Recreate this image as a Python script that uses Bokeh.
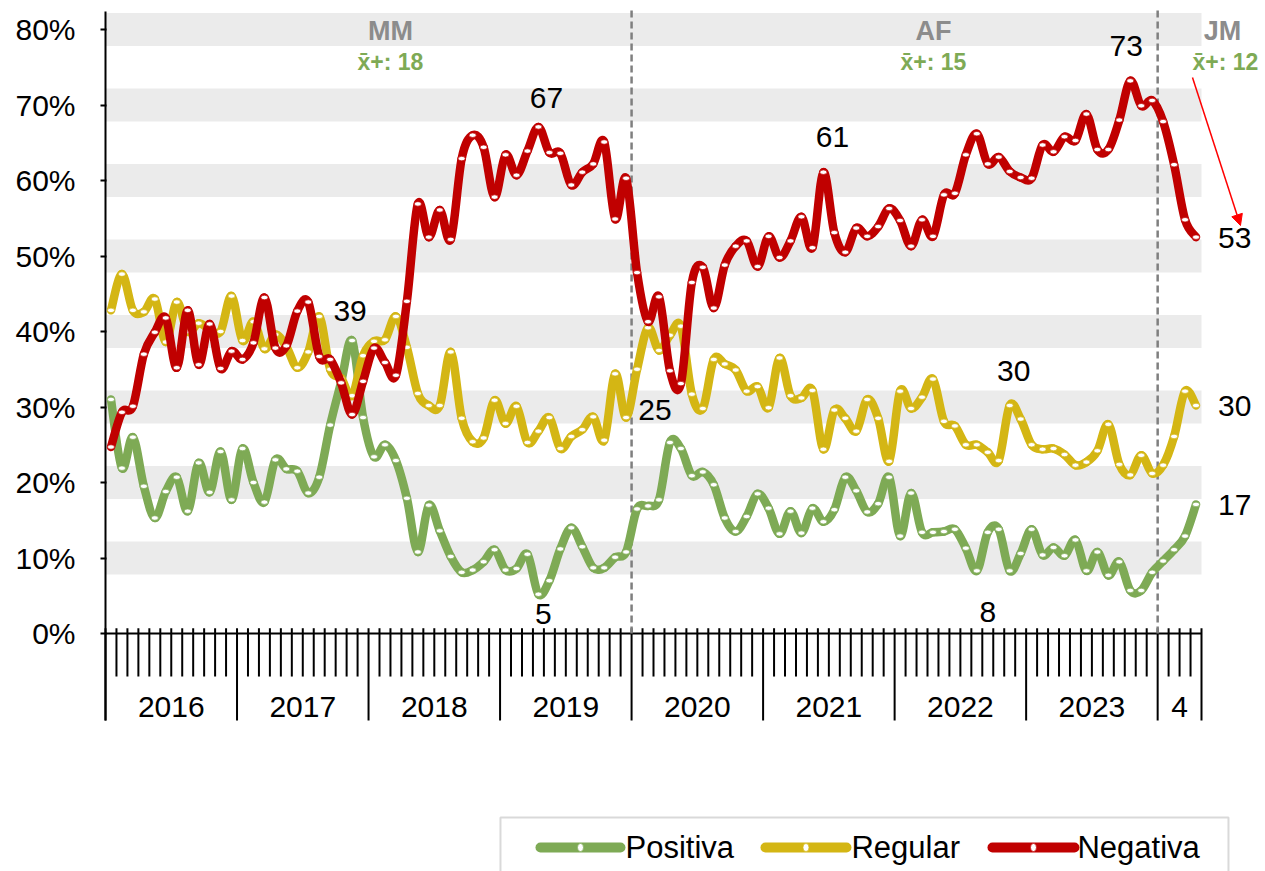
import numpy as np
from bokeh.plotting import figure
from bokeh.models import Range1d, FixedTicker, Arrow, NormalHead
from bokeh.core.properties import value
from bokeh.embed import file_html
from bokeh.resources import INLINE

# ---------------- data ----------------
years = ["2016", "2017", "2018", "2019", "2020", "2021", "2022", "2023", "4"]
months_per_year = [12, 12, 12, 12, 12, 12, 12, 12, 4]

positiva = [31.0, 21.9, 26.0, 19.5, 15.3, 18.8, 20.7, 16.2, 22.6, 18.7, 24.1, 17.7,
            24.5, 20.0, 17.4, 23.0, 21.8, 21.5, 18.6, 20.7, 27.6, 33.3, 38.8, 28.6,
            23.4, 25.0, 22.9, 17.9, 10.8, 17.0, 13.6, 10.2, 8.1, 8.4, 9.5, 11.1,
            8.4, 8.6, 10.5, 5.2, 7.0, 11.2, 14.0, 11.5, 8.7, 8.7, 10.1, 10.8,
            16.5, 16.9, 17.7, 25.3, 24.5, 20.9, 21.4, 19.7, 15.3, 13.5, 15.5, 18.5,
            16.6, 13.2, 16.2, 13.3, 16.6, 14.8, 16.4, 20.7, 18.9, 16.1, 17.2, 20.7,
            12.9, 18.6, 13.4, 13.4, 13.5, 13.8, 11.3, 8.3, 13.4, 13.8, 8.3, 10.6,
            13.8, 10.4, 11.4, 10.3, 12.4, 8.3, 10.8, 7.7, 9.5, 5.7, 5.7, 8.1,
            9.6, 11.1, 12.9, 17.1]

regular = [42.8, 47.6, 42.8, 42.6, 44.3, 38.6, 43.9, 40.0, 41.1, 40.3, 40.0, 44.7,
           38.8, 41.3, 37.7, 39.6, 38.0, 35.2, 37.3, 42.0, 35.0, 33.8, 31.5, 36.8,
           38.7, 38.9, 42.0, 37.9, 31.8, 30.2, 30.2, 37.3, 28.5, 25.4, 25.9, 30.9,
           27.8, 30.1, 25.3, 26.8, 28.6, 24.5, 26.1, 27.0, 28.7, 25.6, 34.4, 28.6,
           35.0, 40.5, 37.5, 39.5, 40.7, 31.7, 29.8, 36.3, 35.7, 34.9, 32.1, 32.7,
           29.9, 36.5, 31.5, 31.2, 32.2, 24.4, 29.6, 28.5, 26.8, 31.0, 28.5, 22.8,
           32.1, 29.8, 31.3, 33.7, 28.1, 27.5, 25.0, 25.0, 24.0, 22.9, 30.2, 28.4,
           25.0, 24.4, 24.5, 23.7, 22.3, 22.7, 24.2, 27.7, 22.4, 21.0, 23.6, 21.2,
           22.3, 26.1, 32.1, 30.2]

negativa = [24.7, 29.3, 30.1, 37.0, 39.9, 41.8, 35.2, 42.8, 35.6, 41.0, 35.1, 37.4,
            36.3, 38.5, 44.5, 37.8, 38.1, 42.7, 43.9, 36.7, 36.3, 33.2, 29.0, 33.4,
            37.8, 35.9, 34.2, 44.0, 56.9, 52.5, 56.1, 52.2, 62.9, 66.0, 64.4, 57.8,
            63.4, 60.7, 63.9, 67.1, 63.7, 63.6, 59.4, 61.1, 62.2, 65.1, 54.9, 60.3,
            47.8, 41.3, 44.6, 34.8, 33.1, 46.5, 48.5, 43.1, 48.8, 51.3, 52.0, 48.6,
            52.6, 49.8, 52.0, 55.2, 51.1, 61.1, 53.1, 50.5, 53.7, 52.6, 53.9, 56.3,
            54.7, 51.3, 54.8, 52.6, 58.1, 58.3, 63.4, 66.2, 62.2, 63.1, 61.2, 60.4,
            60.3, 64.7, 63.8, 65.8, 65.3, 68.8, 64.1, 64.1, 68.0, 73.2, 69.9, 70.6,
            67.8, 62.1, 54.8, 52.5]

series_names = ["Positiva", "Regular", "Negativa"]
series_colors = ["#7EAA55", "#D4B614", "#C00000"]
end_labels = ["17", "30", "53"]

y_ticks = [0, 10, 20, 30, 40, 50, 60, 70, 80]
y_tick_labels = ["0%", "10%", "20%", "30%", "40%", "50%", "60%", "70%", "80%"]

periods = ["MM", "AF", "JM"]
period_means = ["x̄+: 18", "x̄+: 15", "x̄+: 12"]

# data labels: (series index, point index, text, dx px, dy px)
point_labels = [(0, 22, "39", -2, -30), (2, 39, "67", 8, -29), (0, 39, "5", 5, 20),
                (0, 51, "25", -15, -32), (2, 65, "61", 9, -35), (1, 82, "30", 4, -34),
                (0, 79, "8", 11, 41), (2, 93, "73", -4, -35)]

# ---------------- geometry ----------------
PX_X = 10.96          # px per month
PX_Y = 7.55           # px per percentage point
FONT = "Liberation Sans"
N = len(positiva)

W, H = 1260, 871
FRAME_L = 100         # frame left edge (page px)
FRAME_T = 8           # frame top edge (page px)
x_start = -0.5 - 5 / PX_X
x_end = x_start + (1258 - FRAME_L) / PX_X
y_end = (633 - FRAME_T) / PX_Y
y_start = y_end - (H - FRAME_T) / PX_Y


def px2x(px):      # page px -> data x
    return (px - 110.5) / PX_X


def py2y(py):      # page px -> data y
    return (633 - py) / PX_Y


p = figure(width=W, height=H, output_backend="svg", toolbar_location=None,
           x_range=Range1d(x_start, x_end), y_range=Range1d(y_start, y_end),
           x_axis_location=None, min_border_left=FRAME_L, min_border_right=W - 1258,
           min_border_top=FRAME_T, min_border_bottom=0)
p.outline_line_color = None
p.xgrid.visible = False
p.ygrid.visible = False
p.background_fill_color = "white"
p.border_fill_color = "white"

# y axis ticks / labels (axis line drawn manually)
yax = p.yaxis[0]
yax.ticker = FixedTicker(ticks=y_ticks)
yax.major_label_overrides = {t: l for t, l in zip(y_ticks, y_tick_labels)}
yax.axis_line_color = None
yax.minor_tick_line_color = None
yax.major_tick_in = 6
yax.major_tick_out = 0
yax.major_tick_line_width = 2
yax.major_tick_line_color = "black"
yax.major_label_standoff = 25
yax.major_label_text_font = FONT
yax.major_label_text_font_size = "30px"
yax.major_label_text_color = "black"

# background bands
p.quad(left=-0.5, right=N - 0.5, bottom=[t - 2.2 for t in y_ticks[1:]],
       top=[t + 2.2 for t in y_ticks[1:]], fill_color="#EBEBEB", line_color=None)

# y axis line
p.segment(x0=[-0.5], y0=[py2y(720)], x1=[-0.5], y1=[82.4], line_color="black", line_width=2)

# x axis: line, month ticks, year separators, year labels
p.segment(x0=[-0.5], y0=[0], x1=[N - 0.5], y1=[0], line_color="black", line_width=2)
bounds = np.cumsum([0] + months_per_year) - 0.5
bset = set(bounds.tolist())
month_ticks = [b + 0.5 for b in range(N - 1) if (b + 0.5) not in bset]
p.segment(x0=month_ticks, y0=0.7, x1=month_ticks, y1=-5.7, line_color="black", line_width=2)
p.segment(x0=list(bounds), y0=0.7, x1=list(bounds), y1=py2y(720), line_color="black",
          line_width=2)
year_centers = [(bounds[i] + bounds[i + 1]) / 2 for i in range(len(years))]
p.text(x=year_centers, y=py2y(706), text=years, text_font=value(FONT),
       text_font_size=value("30px"), text_align="center", text_baseline="middle",
       text_color="black")

# dashed period separators
sep_x = [bounds[4], bounds[8]]
p.segment(x0=sep_x, y0=0, x1=sep_x, y1=y_end, line_color="#7F7F7F", line_width=2.5,
          line_dash="7 4")

# period labels
p.text(x=[px2x(390), px2x(933), px2x(1222)], y=py2y(30), text=periods,
       text_font=value(FONT), text_font_size=value("27px"), text_font_style="bold",
       text_align="center", text_baseline="middle", text_color="#8C8C8C")
p.text(x=[px2x(390), px2x(933), px2x(1225)], y=py2y(61), text=period_means,
       text_font=value(FONT), text_font_size=value("23px"), text_font_style="bold",
       text_align="center", text_baseline="middle", text_color="#7EAA55")


# smooth series (Catmull-Rom as cubic Bezier segments)
def draw_series(vals, color):
    x = np.arange(len(vals), dtype=float)
    y = np.asarray(vals, dtype=float)
    n = len(y)
    i = np.arange(n - 1)
    im1 = np.maximum(i - 1, 0)
    ip2 = np.minimum(i + 2, n - 1)
    cx0 = x[i] + (x[i + 1] - x[im1]) / 6
    cy0 = y[i] + (y[i + 1] - y[im1]) / 6
    cx1 = x[i + 1] - (x[ip2] - x[i]) / 6
    cy1 = y[i + 1] - (y[ip2] - y[i]) / 6
    p.bezier(x0=x[:-1], y0=y[:-1], x1=x[1:], y1=y[1:], cx0=cx0, cy0=cy0, cx1=cx1,
             cy1=cy1, line_color=color, line_width=8.5, line_cap="round")
    p.ellipse(x=x, y=y, width=7, height=4.5, width_units="screen", height_units="screen",
              fill_color="white", line_color=color, line_width=0.7)


all_series = [positiva, regular, negativa]
for vals, col in zip(all_series, series_colors):
    draw_series(vals, col)

# point labels
p.text(x=[pl[1] for pl in point_labels],
       y=[all_series[pl[0]][pl[1]] for pl in point_labels],
       text=[pl[2] for pl in point_labels], x_offset=[pl[3] for pl in point_labels],
       y_offset=[pl[4] for pl in point_labels], text_font=value(FONT),
       text_font_size=value("30px"), text_align="center", text_baseline="middle",
       text_color="black")
# end labels
p.text(x=[N - 1] * 3, y=[s[-1] for s in all_series], text=end_labels, x_offset=22,
       y_offset=1, text_font=value(FONT), text_font_size=value("30px"), text_align="left",
       text_baseline="middle", text_color="black")

# arrow
p.add_layout(Arrow(end=NormalHead(size=11, fill_color="#FF0000", line_color="#FF0000"),
                   x_start=px2x(1192), y_start=py2y(77), x_end=px2x(1240), y_end=py2y(225),
                   line_color="#FF0000", line_width=1.5))

# legend (manual)
p.quad(left=px2x(500), right=px2x(1228), bottom=y_start - 1, top=py2y(817),
       fill_color=None, line_color="#D9D9D9", line_width=2)
leg_y = py2y(847)
leg_line = [(540, 620), (765, 846), (992, 1074)]
leg_text_x = [625, 851, 1077]
for (a, b), col in zip(leg_line, series_colors):
    p.segment(x0=[px2x(a)], y0=[leg_y], x1=[px2x(b)], y1=[leg_y], line_color=col,
              line_width=10, line_cap="round")
    p.ellipse(x=[px2x((a + b) / 2)], y=[leg_y], width=6, height=8, width_units="screen",
              height_units="screen", fill_color="white", line_color=col, line_width=0.7)
p.text(x=[px2x(t) for t in leg_text_x], y=leg_y, text=series_names, text_font=value(FONT),
       text_font_size=value("31px"), text_align="left", text_baseline="middle",
       text_color="black")

open("out.html", "w").write(file_html(p, INLINE))
